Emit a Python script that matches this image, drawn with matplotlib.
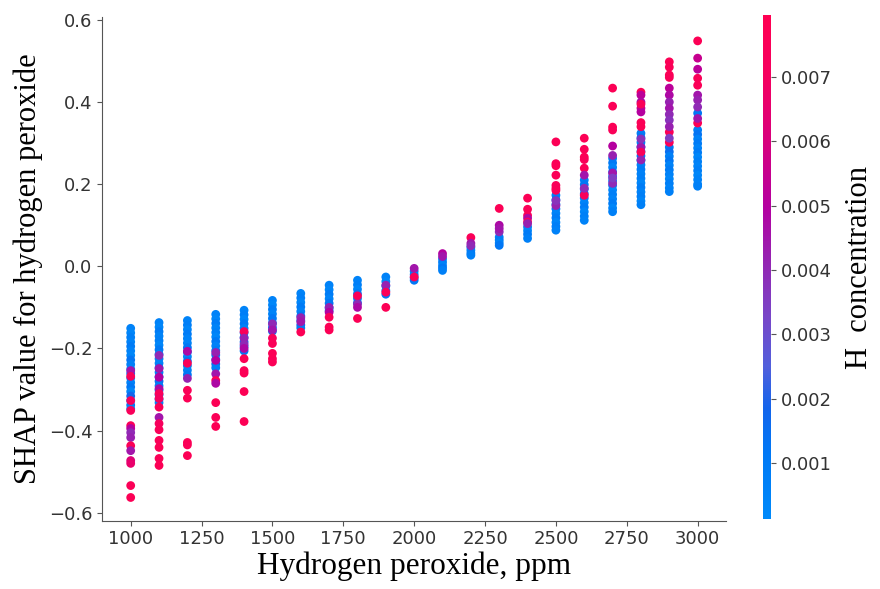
import numpy as np
import matplotlib
matplotlib.use("Agg")
import matplotlib.pyplot as plt
from matplotlib.colors import LinearSegmentedColormap

# hydrogen peroxide levels (ppm)
levels = [1000, 1100, 1200, 1300, 1400, 1500, 1600, 1700, 1800, 1900, 2000,
          2100, 2200, 2300, 2400, 2500, 2600, 2700, 2800, 2900, 3000]

# (SHAP value, H concentration), one list per level
c1000 = [(-0.151, 0.0006), (-0.162, 0.0004), (-0.173, 0.0008), (-0.184, 0.0005), (-0.195, 0.0010),
         (-0.206, 0.0006), (-0.217, 0.0004), (-0.228, 0.0013), (-0.239, 0.0007), (-0.250, 0.0005),
         (-0.261, 0.0015), (-0.272, 0.0009), (-0.283, 0.0006), (-0.294, 0.0012), (-0.305, 0.0004),
         (-0.316, 0.0018), (-0.327, 0.0008), (-0.338, 0.0011), (-0.347, 0.0006),
         (-0.254, 0.0045), (-0.268, 0.0075), (-0.327, 0.0072), (-0.351, 0.0074), (-0.388, 0.0076),
         (-0.395, 0.0050), (-0.405, 0.0040), (-0.417, 0.0042), (-0.437, 0.0077), (-0.449, 0.0045),
         (-0.473, 0.0062), (-0.480, 0.0066), (-0.534, 0.0076), (-0.563, 0.0077)]
c1100 = [(-0.137, 0.0006), (-0.148, 0.0004), (-0.159, 0.0009), (-0.170, 0.0005), (-0.181, 0.0007),
         (-0.192, 0.0004), (-0.203, 0.0011), (-0.214, 0.0006), (-0.225, 0.0008), (-0.236, 0.0005),
         (-0.247, 0.0014), (-0.258, 0.0007), (-0.269, 0.0004), (-0.280, 0.0016), (-0.291, 0.0009),
         (-0.302, 0.0006), (-0.313, 0.0012), (-0.324, 0.0008), (-0.332, 0.0005),
         (-0.217, 0.0040), (-0.249, 0.0045), (-0.270, 0.0050), (-0.298, 0.0048), (-0.310, 0.0074),
         (-0.322, 0.0070), (-0.343, 0.0076), (-0.368, 0.0045), (-0.383, 0.0072), (-0.398, 0.0075),
         (-0.424, 0.0076), (-0.441, 0.0077), (-0.468, 0.0076), (-0.485, 0.0077)]
c1200 = [(-0.132, 0.0005), (-0.143, 0.0008), (-0.154, 0.0004), (-0.165, 0.0010), (-0.176, 0.0006),
         (-0.187, 0.0005), (-0.198, 0.0012), (-0.209, 0.0007), (-0.220, 0.0004), (-0.231, 0.0015),
         (-0.242, 0.0008), (-0.253, 0.0006), (-0.264, 0.0011),
         (-0.207, 0.0048), (-0.236, 0.0075), (-0.273, 0.0042), (-0.302, 0.0076), (-0.321, 0.0077),
         (-0.429, 0.0077), (-0.435, 0.0076), (-0.461, 0.0077)]
c1300 = [(-0.117, 0.0006), (-0.128, 0.0004), (-0.139, 0.0009), (-0.150, 0.0005), (-0.161, 0.0007),
         (-0.172, 0.0004), (-0.183, 0.0011), (-0.194, 0.0006), (-0.205, 0.0009), (-0.216, 0.0013),
         (-0.227, 0.0007), (-0.238, 0.0016), (-0.247, 0.0008),
         (-0.210, 0.0042), (-0.229, 0.0050), (-0.262, 0.0045), (-0.278, 0.0076), (-0.285, 0.0048),
         (-0.332, 0.0077), (-0.368, 0.0076), (-0.390, 0.0077)]
c1400 = [(-0.107, 0.0005), (-0.118, 0.0008), (-0.129, 0.0004), (-0.140, 0.0011), (-0.151, 0.0006),
         (-0.162, 0.0014), (-0.173, 0.0007), (-0.184, 0.0018), (-0.195, 0.0009), (-0.206, 0.0012),
         (-0.159, 0.0075), (-0.175, 0.0042), (-0.190, 0.0040), (-0.200, 0.0048), (-0.225, 0.0077),
         (-0.254, 0.0076), (-0.260, 0.0077), (-0.305, 0.0077), (-0.378, 0.0077)]
c1500 = [(-0.083, 0.0006), (-0.094, 0.0004), (-0.105, 0.0009), (-0.116, 0.0005), (-0.127, 0.0012),
         (-0.138, 0.0007), (-0.149, 0.0016), (-0.158, 0.0010),
         (-0.140, 0.0040), (-0.155, 0.0045), (-0.175, 0.0074), (-0.188, 0.0076), (-0.212, 0.0077),
         (-0.225, 0.0077), (-0.233, 0.0076)]
c1600 = [(-0.066, 0.0005), (-0.077, 0.0008), (-0.088, 0.0004), (-0.099, 0.0010), (-0.110, 0.0006),
         (-0.121, 0.0013), (-0.132, 0.0008), (-0.143, 0.0017), (-0.150, 0.0011),
         (-0.125, 0.0042), (-0.135, 0.0045), (-0.160, 0.0077)]
c1700 = [(-0.046, 0.0006), (-0.057, 0.0004), (-0.068, 0.0009), (-0.079, 0.0005), (-0.090, 0.0012),
         (-0.101, 0.0008), (-0.108, 0.0015),
         (-0.100, 0.0042), (-0.112, 0.0050), (-0.124, 0.0075), (-0.148, 0.0077), (-0.155, 0.0077)]
c1800 = [(-0.034, 0.0005), (-0.045, 0.0008), (-0.056, 0.0004), (-0.067, 0.0011), (-0.078, 0.0007),
         (-0.089, 0.0014),
         (-0.072, 0.0075), (-0.092, 0.0040), (-0.100, 0.0048), (-0.127, 0.0077)]
c1900 = [(-0.026, 0.0006), (-0.037, 0.0004), (-0.048, 0.0010), (-0.059, 0.0007), (-0.068, 0.0013),
         (-0.046, 0.0042), (-0.063, 0.0076), (-0.100, 0.0077)]
c2000 = [(-0.012, 0.0006), (-0.020, 0.0009), (-0.028, 0.0005), (-0.034, 0.0012),
         (-0.005, 0.0045), (-0.026, 0.0076)]
c2100 = [(0.018, 0.0006), (0.010, 0.0009), (0.002, 0.0005), (-0.004, 0.0012), (-0.010, 0.0007),
         (0.031, 0.0050), (0.024, 0.0045)]
c2200 = [(0.046, 0.0006), (0.039, 0.0004), (0.032, 0.0010), (0.027, 0.0007),
         (0.070, 0.0076), (0.056, 0.0045), (0.050, 0.0040)]
c2300 = [(0.071, 0.0006), (0.064, 0.0009), (0.057, 0.0005), (0.051, 0.0012),
         (0.141, 0.0077), (0.100, 0.0048), (0.084, 0.0040), (0.092, 0.0045)]
c2400 = [(0.096, 0.0006), (0.087, 0.0004), (0.078, 0.0010), (0.068, 0.0007),
         (0.166, 0.0077), (0.139, 0.0076), (0.124, 0.0075), (0.117, 0.0048), (0.108, 0.0074),
         (0.104, 0.0042)]
c2500 = [(0.173, 0.0008), (0.162, 0.0014), (0.151, 0.0006), (0.140, 0.0010), (0.129, 0.0005),
         (0.118, 0.0009), (0.107, 0.0004), (0.097, 0.0008), (0.088, 0.0006),
         (0.303, 0.0077), (0.250, 0.0076), (0.245, 0.0077), (0.222, 0.0076), (0.197, 0.0075),
         (0.190, 0.0074), (0.185, 0.0076), (0.148, 0.0042), (0.160, 0.0038)]
c2600 = [(0.210, 0.0008), (0.199, 0.0012), (0.188, 0.0006), (0.177, 0.0015), (0.166, 0.0007),
         (0.155, 0.0005), (0.144, 0.0009), (0.133, 0.0004), (0.122, 0.0007), (0.112, 0.0005),
         (0.312, 0.0077), (0.285, 0.0076), (0.266, 0.0077), (0.260, 0.0075), (0.239, 0.0076),
         (0.222, 0.0045), (0.173, 0.0074), (0.190, 0.0040)]
c2700 = [(0.263, 0.0007), (0.252, 0.0011), (0.241, 0.0005), (0.230, 0.0014), (0.219, 0.0008),
         (0.208, 0.0006), (0.197, 0.0010), (0.186, 0.0004), (0.175, 0.0008), (0.164, 0.0005),
         (0.153, 0.0009), (0.142, 0.0004), (0.133, 0.0007),
         (0.434, 0.0077), (0.390, 0.0076), (0.339, 0.0077), (0.332, 0.0075), (0.293, 0.0050),
         (0.270, 0.0042), (0.227, 0.0045), (0.202, 0.0040), (0.215, 0.0035)]
c2800 = [(0.324, 0.0009), (0.313, 0.0014), (0.302, 0.0007), (0.291, 0.0011), (0.280, 0.0005),
         (0.269, 0.0012), (0.258, 0.0007), (0.247, 0.0005), (0.236, 0.0010), (0.225, 0.0006),
         (0.214, 0.0008), (0.203, 0.0004), (0.192, 0.0009), (0.181, 0.0005), (0.170, 0.0008),
         (0.159, 0.0004), (0.150, 0.0007),
         (0.424, 0.0077), (0.417, 0.0052), (0.400, 0.0048), (0.385, 0.0055), (0.376, 0.0050),
         (0.395, 0.0075), (0.350, 0.0076), (0.340, 0.0077), (0.290, 0.0045), (0.278, 0.0075),
         (0.259, 0.0042), (0.310, 0.0038)]
c2900 = [(0.290, 0.0010), (0.279, 0.0015), (0.268, 0.0007), (0.257, 0.0012), (0.246, 0.0005),
         (0.235, 0.0009), (0.224, 0.0006), (0.213, 0.0004), (0.202, 0.0008), (0.191, 0.0005),
         (0.182, 0.0007),
         (0.498, 0.0077), (0.485, 0.0076), (0.466, 0.0077), (0.460, 0.0075), (0.434, 0.0052),
         (0.417, 0.0048), (0.400, 0.0042), (0.385, 0.0045), (0.370, 0.0040), (0.356, 0.0038),
         (0.327, 0.0076), (0.302, 0.0075), (0.340, 0.0042), (0.312, 0.0035)]
c3000 = [(0.373, 0.0012), (0.332, 0.0008), (0.321, 0.0013), (0.310, 0.0006), (0.299, 0.0010),
         (0.288, 0.0005), (0.277, 0.0009), (0.266, 0.0004), (0.255, 0.0007), (0.244, 0.0005),
         (0.233, 0.0008), (0.222, 0.0004), (0.211, 0.0006), (0.200, 0.0005), (0.195, 0.0007),
         (0.549, 0.0077), (0.507, 0.0055), (0.480, 0.0052), (0.458, 0.0075), (0.441, 0.0076),
         (0.417, 0.0045), (0.405, 0.0042), (0.388, 0.0040), (0.349, 0.0077), (0.360, 0.0045)]

columns = [c1000, c1100, c1200, c1300, c1400, c1500, c1600, c1700, c1800, c1900, c2000,
           c2100, c2200, c2300, c2400, c2500, c2600, c2700, c2800, c2900, c3000]

cbar_ticks = [0.001, 0.002, 0.003, 0.004, 0.005, 0.006, 0.007]
x_ticks = [1000, 1250, 1500, 1750, 2000, 2250, 2500, 2750, 3000]
y_ticks = [-0.6, -0.4, -0.2, 0.0, 0.2, 0.4, 0.6]

xs, ys, cs = [], [], []
for lev, col in zip(levels, columns):
    for v, c in col:
        xs.append(lev)
        ys.append(v)
        cs.append(c)

# shap-like red/blue colormap
nodes = [(0.0, (0, 138, 250)), (0.13, (0, 120, 245)), (0.22, (20, 100, 235)),
         (0.30, (80, 95, 220)), (0.40, (120, 70, 200)), (0.50, (145, 40, 180)),
         (0.62, (180, 0, 160)), (0.75, (215, 0, 125)), (0.88, (245, 0, 95)),
         (1.0, (255, 0, 82))]
red_blue = LinearSegmentedColormap.from_list(
    "red_blue", [(p, tuple(ch / 255 for ch in rgb)) for p, rgb in nodes])

axis_color = "#333333"
serif = ["Liberation Serif", "DejaVu Serif"]

fig = plt.figure(figsize=(8.8, 5.89), dpi=100)
ax = fig.add_axes([0.1163, 0.116, 0.7087, 0.855])
sc = ax.scatter(xs, ys, c=cs, cmap=red_blue, vmin=0.00013, vmax=0.00796,
                s=40, linewidths=0, alpha=1.0)

ax.set_xlim(900, 3100)
ax.set_ylim(-0.6195, 0.607)
ax.set_xticks(x_ticks)
ax.set_yticks(y_ticks)
ax.set_yticklabels([f"{t:.1f}".replace("-", "\u2212") for t in y_ticks])
ax.spines["top"].set_visible(False)
ax.spines["right"].set_visible(False)
ax.spines["left"].set_color("#555555")
ax.spines["bottom"].set_color("#555555")
ax.tick_params(color="#555555", labelcolor=axis_color, labelsize=13)
ax.set_xlabel("Hydrogen peroxide, ppm", family=serif, fontsize=22.5, labelpad=2)
ax.set_ylabel("SHAP value for hydrogen peroxide", family=serif, fontsize=22, labelpad=4)

cax = fig.add_axes([0.867, 0.1188, 0.009, 0.8557])
cb = fig.colorbar(sc, cax=cax, ticks=cbar_ticks)
cb.outline.set_visible(False)
cb.ax.set_yticklabels([f"{t:.3f}" for t in cbar_ticks])
cb.ax.tick_params(color="#555555", labelcolor=axis_color, labelsize=13)
cb.set_label("H  concentration", family=serif, fontsize=22, labelpad=10)

fig.savefig("out.png", dpi=100)
